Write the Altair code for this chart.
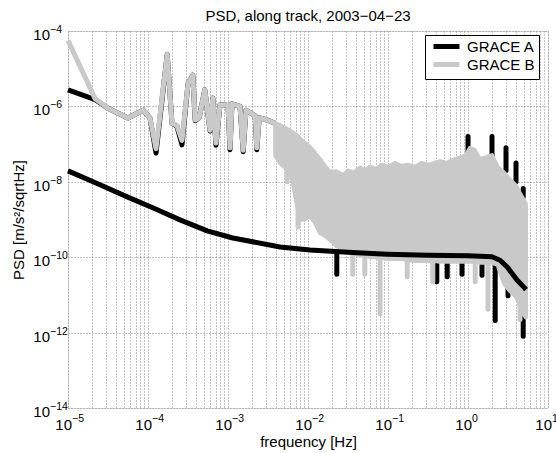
import altair as alt
import pandas as pd

FONT = "Liberation Sans"

# ---- values (log10 frequency [Hz], log10 PSD) ----
# GRACE A, low-frequency trace
a_line_logf = [-5.0, -4.66, -4.5, -4.25, -4.06, -3.975, -3.9, -3.76, -3.7, -3.64, -3.575, -3.5,
               -3.44, -3.41, -3.36, -3.29, -3.225, -3.19, -3.15, -3.1, -3.0, -2.975, -2.95, -2.85,
               -2.81, -2.775, -2.66, -2.64, -2.61, -2.51, -2.41]
a_line_logp = [-5.56, -5.82, -6.05, -6.31, -6.1, -6.31, -7.24, -4.62, -6.45, -6.52, -7.02, -5.4,
               -5.17, -6.38, -6.3, -5.56, -6.65, -5.78, -7.03, -5.96, -5.95, -7.15, -5.93, -6.0,
               -7.2, -6.1, -6.25, -7.15, -6.3, -6.36, -6.45]
# GRACE B, low-frequency trace
b_line_logf = [-5.0, -4.66, -4.5, -4.25, -4.06, -3.975, -3.9, -3.76, -3.7, -3.64, -3.575, -3.5,
               -3.44, -3.41, -3.36, -3.29, -3.225, -3.19, -3.15, -3.1, -3.0, -2.975, -2.95, -2.85,
               -2.81, -2.775, -2.66, -2.64, -2.61, -2.51, -2.41]
b_line_logp = [-4.25, -5.8, -6.05, -6.31, -6.1, -6.31, -7.12, -4.62, -6.45, -6.5, -6.9, -5.4,
               -5.17, -6.36, -6.3, -5.56, -6.63, -5.78, -6.97, -5.96, -5.95, -7.1, -5.93, -6.0,
               -7.16, -6.1, -6.25, -7.1, -6.3, -6.36, -6.45]
# GRACE B, dense noisy part: upper and lower envelope
band_logf = [-2.41, -2.35, -2.3, -2.26, -2.2, -2.14, -2.1, -2.05, -1.975, -1.91,
             -1.85, -1.78, -1.725, -1.65, -1.56, -1.5, -1.42, -1.35, -1.29, -1.225,
             -1.15, -1.08, -1.0, -0.91, -0.83, -0.75, -0.66, -0.58, -0.5, -0.42,
             -0.35, -0.27, -0.19, -0.1, -0.03, 0.025, 0.08, 0.15, 0.22, 0.3,
             0.37, 0.45, 0.525, 0.6, 0.65, 0.69, 0.725]
b_band_upper = [-6.45, -6.49, -6.55, -6.6, -6.68, -6.76, -6.85, -6.95, -7.08, -7.24,
                -7.4, -7.6, -7.74, -7.72, -7.82, -7.7, -7.75, -7.62, -7.7, -7.6,
                -7.65, -7.55, -7.6, -7.5, -7.58, -7.55, -7.6, -7.5, -7.55, -7.5,
                -7.45, -7.5, -7.42, -7.35, -7.3, -7.1, -7.15, -7.4, -7.35, -7.29,
                -7.6, -7.75, -7.95, -8.1, -8.3, -8.45, -8.6]
b_band_lower = [-7.3, -7.5, -7.6, -7.7, -7.9, -8.6, -9.0, -9.0, -8.9, -9.1,
                -9.36, -9.45, -9.54, -9.7, -9.8, -9.85, -9.9, -9.95, -9.95, -10.0,
                -10.0, -10.02, -10.05, -10.05, -10.05, -10.08, -10.1, -10.1, -10.1, -10.1,
                -10.12, -10.12, -10.12, -10.12, -10.12, -10.12, -10.12, -10.15, -10.15, -10.15,
                -10.2, -10.7, -10.9, -11.05, -11.3, -11.5, -11.6]
# GRACE B, deep single spikes
b_spike_logf = [-2.26, -2.125, -1.44, -1.29, -1.1, -0.76, -0.44, 0.09, 0.25, 0.65]
b_spike_base = [-7.7, -8.6, -9.9, -9.95, -10.0, -10.08, -10.1, -10.12, -10.15, -11.3]
b_spike_tip = [-8.0, -9.2, -10.45, -10.45, -11.5, -10.52, -10.65, -10.65, -11.38, -11.65]
# GRACE A, spikes that stick out of the grey trace
a_spike_logf = [0.0, 0.3, 0.475, 0.6, 0.69,
                -1.64, -0.39, -0.26, -0.075, 0.175, 0.34, 0.5, 0.69]
a_spike_base = [-7.3, -7.3, -7.7, -8.0, -8.4,
                -9.9, -10.1, -10.1, -10.1, -10.1, -10.2, -10.6, -11.3]
a_spike_tip = [-6.8, -6.8, -7.1, -7.5, -8.18,
               -10.45, -10.65, -10.52, -10.45, -10.48, -11.68, -11.02, -12.1]
# smooth black curve
model_logf = [-5.0, -4.6, -4.26, -3.94, -3.6, -3.26, -2.94, -2.35, -1.975, -1.5, -1.01, -0.5,
              0.0, 0.3, 0.4, 0.49, 0.61, 0.71, 0.725]
model_logp = [-7.71, -8.08, -8.4, -8.69, -9.01, -9.3, -9.49, -9.73, -9.81, -9.87, -9.92, -9.95,
              -9.96, -9.99, -10.08, -10.26, -10.6, -10.82, -10.86]

# ---- axis ticks and tick labels ----
x_major = [1e-5, 1e-4, 1e-3, 1e-2, 1e-1, 1e0, 1e1]
x_major_exp = ["\u22125", "\u22124", "\u22123", "\u22122", "\u22121", "0", "1"]
x_minor_mult = [2, 3, 4, 5, 6, 7, 8, 9]
y_major = [1e-14, 1e-12, 1e-10, 1e-8, 1e-6, 1e-4]
y_major_exp = ["\u221214", "\u221212", "\u221210", "\u22128", "\u22126", "\u22124"]

GREY = "#c9c9c9"
BLACK = "#000000"
W, H = 480, 377


def tbl(logf, **cols):
    d = {"f": [10 ** v for v in logf]}
    for k, v in cols.items():
        d[k] = [10 ** u for u in v]
    return pd.DataFrame(d)


a_line = tbl(a_line_logf, p=a_line_logp).assign(series="GRACE A")
b_line = tbl(b_line_logf, p=b_line_logp).assign(series="GRACE B")
b_band = tbl(band_logf, p=b_band_upper, lo=b_band_lower)
b_spk = tbl(b_spike_logf, p=b_spike_base, lo=b_spike_tip)
a_spk = tbl(a_spike_logf, p=a_spike_base, lo=a_spike_tip)
model = tbl(model_logf, p=model_logp)
x_lab = pd.DataFrame({"f": x_major, "e": x_major_exp})
y_lab = pd.DataFrame({"p": y_major, "e": y_major_exp})

x_ticks = sorted(x_major + [m * v for v in x_major[:-1] for m in x_minor_mult])

GRID = dict(grid=True, gridDash=[1, 2], gridColor="#8a8a8a", gridWidth=1, ticks=False,
            domain=False, labels=False, titleFont=FONT, titleFontSize=15,
            titleFontWeight="normal", titleColor="black", titleBaseline="alphabetic")
x_axis = alt.Axis(values=x_ticks, title="frequency [Hz]", titleY=38, **GRID)
y_axis = alt.Axis(values=y_major, title="PSD [m/s\u00b2/sqrtHz]", titleX=-45, **GRID)

xs = alt.Scale(type="log", domain=[1e-5, 10])
ys = alt.Scale(type="log", domain=[1e-14, 1e-4])
X = alt.X("f:Q", scale=xs, axis=x_axis)
Y = alt.Y("p:Q", scale=ys, axis=y_axis)

color = alt.Color("series:N",
                  scale=alt.Scale(domain=["GRACE A", "GRACE B"], range=[BLACK, GREY]),
                  legend=alt.Legend(title=None, orient="none", legendX=357, legendY=4,
                                    direction="vertical", symbolType="M-0.86,0H6.57",
                                    symbolStrokeWidth=5, symbolSize=49,
                                    labelFont=FONT, labelFontSize=15, labelColor="black",
                                    labelOffset=23, rowPadding=-4, padding=4,
                                    strokeColor="black", fillColor="white"))

a_line_ch = alt.Chart(a_line).mark_line(strokeWidth=5, strokeJoin="round").encode(
    x=X, y=Y, color=color)
a_spk_ch = alt.Chart(a_spk).mark_rule(strokeWidth=5, strokeCap="round", color=BLACK).encode(
    x=X, y=Y, y2=alt.Y2("lo:Q"))
b_line_ch = alt.Chart(b_line).mark_line(strokeWidth=5, strokeJoin="round").encode(
    x=X, y=Y, color=color)
b_band_ch = alt.Chart(b_band).mark_area(color=GREY, stroke=GREY, strokeWidth=4,
                                        strokeJoin="round", opacity=1).encode(
    x=X, y=Y, y2=alt.Y2("lo:Q"))
b_spk_ch = alt.Chart(b_spk).mark_rule(strokeWidth=5, strokeCap="round", color=GREY).encode(
    x=X, y=Y, y2=alt.Y2("lo:Q"))
model_ch = alt.Chart(model).mark_line(strokeWidth=5, strokeJoin="round", color=BLACK).encode(
    x=X, y=Y)

# tick labels: base "10" plus a raised, smaller exponent
TXT = dict(font=FONT, color="black")
xl_base = alt.Chart(x_lab).mark_text(text="10", fontSize=15, align="right",
                                     baseline="alphabetic", dx=4, **TXT).encode(
    x=X, y=alt.value(H + 22))
xl_exp = alt.Chart(x_lab).mark_text(fontSize=10.5, align="left", baseline="alphabetic",
                                    dx=4, **TXT).encode(
    x=X, y=alt.value(H + 14), text="e:N")
yl_base = alt.Chart(y_lab).mark_text(text="10", fontSize=15, align="right",
                                     baseline="alphabetic", dy=9, **TXT).encode(
    y=Y, x=alt.value(-18))
yl_exp = alt.Chart(y_lab).mark_text(fontSize=10.5, align="left", baseline="alphabetic",
                                    dy=2, **TXT).encode(
    y=Y, x=alt.value(-18), text="e:N")

chart = alt.layer(a_line_ch, a_spk_ch, b_line_ch, b_band_ch, b_spk_ch, model_ch,
                  xl_base, xl_exp, yl_base, yl_exp).properties(
    width=W, height=H,
    title=alt.TitleParams("PSD, along track, 2003\u221204\u221223", font=FONT, fontSize=15,
                          fontWeight="normal", color="black", offset=1, anchor="middle"),
    autosize=alt.AutoSizeParams(type="none"),
    padding={"left": 68, "top": 31, "right": 8, "bottom": 45},
).configure_view(stroke="black", strokeWidth=1).configure(background="white")

chart.save("out.html", embed_options={"renderer": "svg", "actions": False})
